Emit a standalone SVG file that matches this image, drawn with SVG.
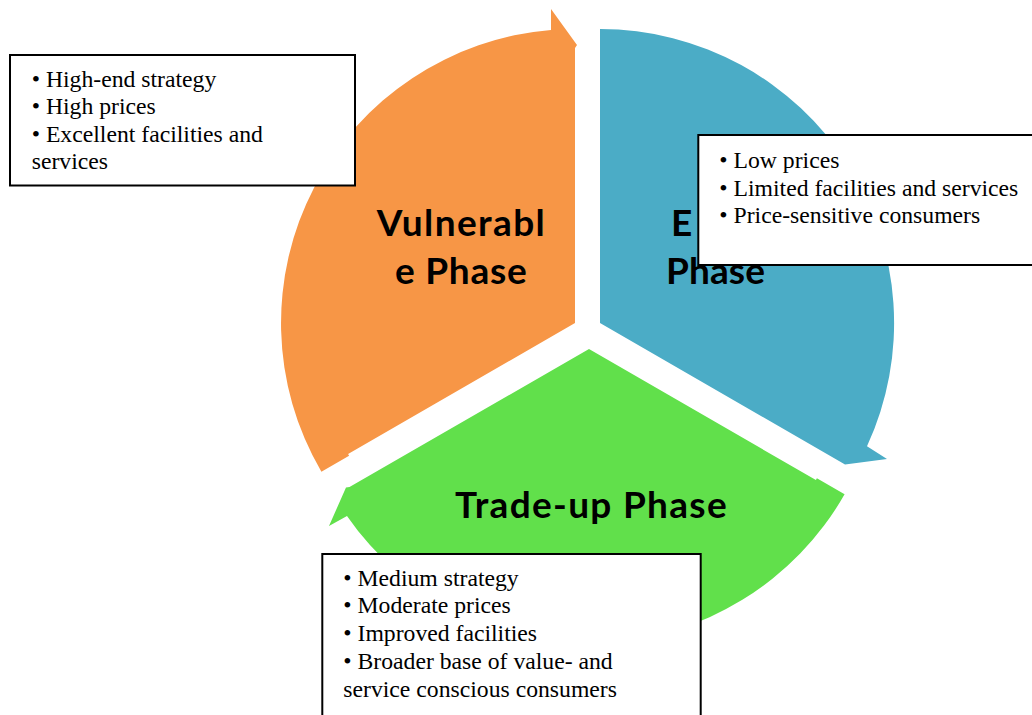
<svg xmlns="http://www.w3.org/2000/svg" width="1032" height="715" viewBox="0 0 1032 715">
<style>
.lbl{font-family:Lato,"Open Sans","DejaVu Sans",sans-serif;font-weight:700;font-size:37px;fill:#000}
.box{fill:#fff;stroke:#000;stroke-width:2}
.bt{font-family:"Liberation Serif","Times New Roman",serif;font-size:23.7px;fill:#000}
</style>
<rect width="1032" height="715" fill="#fff"/>
<g id="vulnerable-phase">
<path d="M575 323 L348.1 454 L349.1 455.7 L321.4 471.7 A294 294 0 0 1 551 30 L551 9 L577 45 L575 48 Z" fill="#F79646"/>
<text class="lbl" x="376.7" y="235.7" textLength="168">Vulnerabl</text>
<text class="lbl" x="395" y="284.3" textLength="131.7">e Phase</text>
</g>
<g id="economy-phase">
<path d="M600 323 L600 29 A294 294 0 0 1 867 446.3 L887 459 L845 464.5 L841.6 462.5 Z" fill="#4BACC6"/>
<text class="lbl" x="671" y="235.7">E</text>
<text class="lbl" x="666" y="284.3" textLength="99">Phase</text>
</g>
<g id="trade-up-phase">
<path d="M589 349 L815.9 480 L816.9 478.3 L844.6 494.3 A294 294 0 0 1 347 515.9 L329 526 L346 487.5 L349.5 487 Z" fill="#61E04B"/>
<text class="lbl" x="455" y="517.7" textLength="271.7">Trade-up Phase</text>
</g>
<g id="box-vulnerable">
<rect class="box" x="10" y="55" width="345" height="130.5"/>
<text class="bt" x="31.7" y="86.7">• High-end strategy</text>
<text class="bt" x="31.7" y="114.2">• High prices</text>
<text class="bt" x="31.7" y="141.7">• Excellent facilities and</text>
<text class="bt" x="31.7" y="169.3">services</text>
</g>
<g id="box-economy">
<rect class="box" x="698.3" y="135" width="345" height="130"/>
<text class="bt" x="719.3" y="167.7">• Low prices</text>
<text class="bt" x="719.3" y="195.5">• Limited facilities and services</text>
<text class="bt" x="719.3" y="223.3">• Price-sensitive consumers</text>
</g>
<g id="box-trade-up">
<rect class="box" x="322.3" y="554" width="378.4" height="175"/>
<text class="bt" x="343.3" y="585.7">• Medium strategy</text>
<text class="bt" x="343.3" y="613.3">• Moderate prices</text>
<text class="bt" x="343.3" y="641">• Improved facilities</text>
<text class="bt" x="343.3" y="668.7">• Broader base of value- and</text>
<text class="bt" x="343.3" y="696.7">service conscious consumers</text>
</g>
</svg>
